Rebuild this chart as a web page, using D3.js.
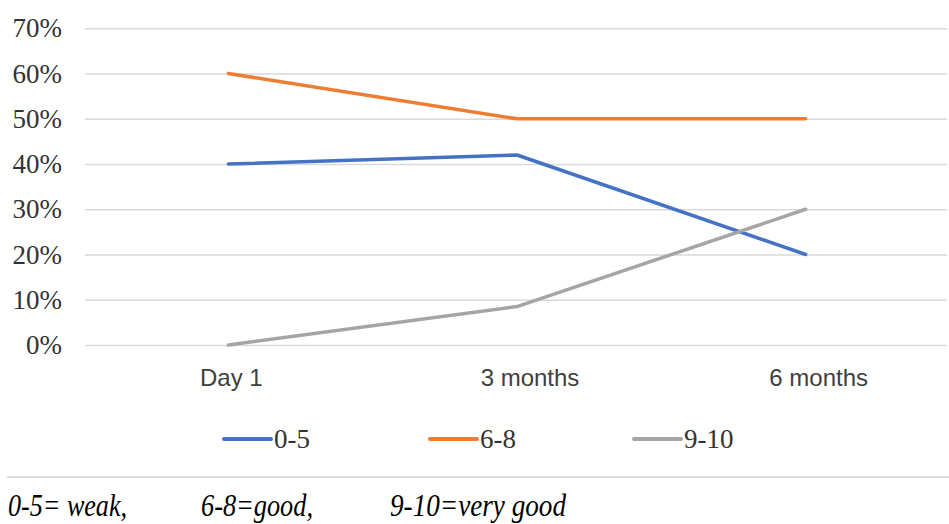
<!DOCTYPE html>
<html><head><meta charset="utf-8">
<script src="https://cdn.jsdelivr.net/npm/d3@7"></script>
<style>
html,body{margin:0;padding:0;background:#fff;}
svg{display:block;}
</style></head>
<body>
<svg id="c" width="949" height="524"></svg>
<script>
const categories = ["Day 1", "3 months", "6 months"];
const seriesNames = ["0-5", "6-8", "9-10"];
const s05 = [0.40, 0.42, 0.20];
const s68 = [0.60, 0.50, 0.50];
const s910 = [0.00, 0.085, 0.30];
const yTicks = [0, 0.1, 0.2, 0.3, 0.4, 0.5, 0.6, 0.7];
const captions = ["0-5= weak,", "6-8=good,", "9-10=very good"];

const colors = ["#4472C4", "#ED7D31", "#A5A5A5"];
const seriesVals = [s05, s68, s910];

const svg = d3.select("#c");
const x = d3.scaleBand().domain(categories).range([84, 950]);
const y = d3.scaleLinear().domain([0, 0.7]).range([345, 28.3]);

// gridlines
const yAxis = d3.axisLeft(y).tickValues(yTicks).tickSize(-(947 - 85)).tickFormat(d3.format(".0%")).tickPadding(23);
const gy = svg.append("g").attr("transform", "translate(85,0)").call(yAxis);
gy.attr("font-family", null);
gy.select(".domain").remove();
gy.selectAll(".tick line").attr("stroke", "#d9d9d9").attr("stroke-width", 1.5);
gy.selectAll(".tick text").attr("font-family", "'Liberation Serif', 'Times New Roman', serif")
  .attr("font-size", 27).attr("fill", "#333");

// x axis labels
const xShift = [3, 13, 13];
const xAxis = d3.axisBottom(x).tickSize(0).tickPadding(0);
const gx = svg.append("g").attr("transform", "translate(0,368)").call(xAxis);
gx.attr("font-family", null);
gx.select(".domain").remove();
gx.selectAll(".tick text").attr("font-family", "'Liberation Sans', Arial, sans-serif")
  .attr("font-size", 24).attr("fill", "#404040").attr("dy", "0.75em")
  .attr("dx", (d, i) => xShift[i]);

// lines
const line = d3.line().x((d, i) => x(categories[i]) + x.bandwidth() / 2).y(d => y(d));
seriesVals.forEach((vals, k) => {
  svg.append("path").datum(vals).attr("d", line).attr("fill", "none")
    .attr("stroke", colors[k]).attr("stroke-width", 3.5).attr("stroke-linecap", "round").attr("stroke-linejoin", "round");
});

// legend
const legX = [224, 430, 634];
seriesNames.forEach((n, k) => {
  const g = svg.append("g").attr("transform", `translate(${legX[k]},439)`);
  g.append("line").attr("x1", 0).attr("x2", 47).attr("y1", 0).attr("y2", 0)
    .attr("stroke", colors[k]).attr("stroke-width", 4).attr("stroke-linecap", "round");
  g.append("text").attr("x", 50).attr("y", 0).attr("dy", "0.35em").text(n)
    .attr("font-family", "'Liberation Serif', 'Times New Roman', serif").attr("font-size", 27).attr("fill", "#333");
});

// separator
svg.append("line").attr("x1", 7).attr("x2", 949).attr("y1", 477).attr("y2", 477)
  .attr("stroke", "#d0d0d0").attr("stroke-width", 1.5);

// caption
const capX = [8, 201, 390];
const capW = [119, 112, 176];
captions.forEach((t, k) => {
  svg.append("text").attr("x", capX[k]).attr("y", 516).text(t)
    .attr("font-family", "'Liberation Serif', 'Times New Roman', serif").attr("font-style", "italic")
    .attr("font-size", 32).attr("fill", "#000")
    .attr("textLength", capW[k]).attr("lengthAdjust", "spacingAndGlyphs");
});
</script>
</body></html>
